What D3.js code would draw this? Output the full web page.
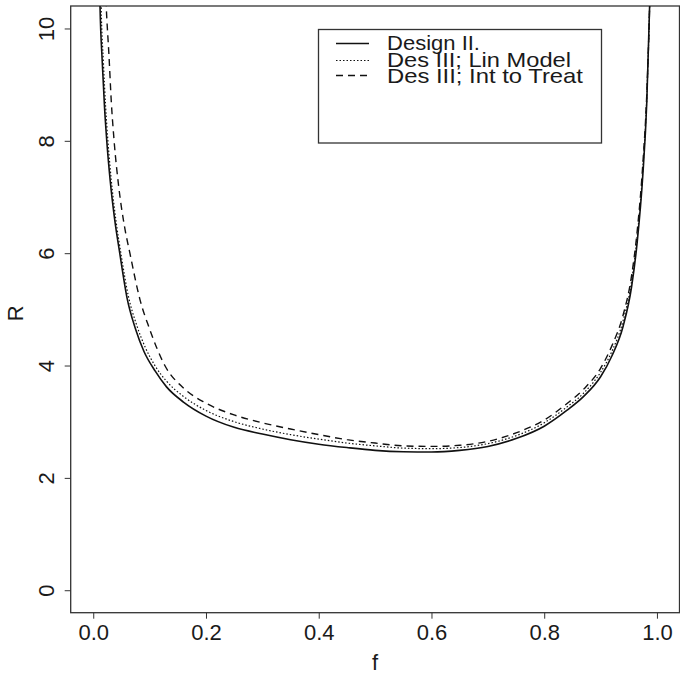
<!DOCTYPE html>
<html>
<head>
<meta charset="utf-8">
<script src="https://cdn.jsdelivr.net/npm/d3@7"></script>
<style>
  body { margin: 0; background: #fff; }
  svg text { font-family: "Liberation Sans", Arial, sans-serif; fill: #1a1a1a; }
</style>
</head>
<body>
<div id="chart"></div>
<script>
// series: f values and R values
var fDesign2 = [0.010, 0.012, 0.016, 0.020, 0.024, 0.030, 0.038, 0.047, 0.060, 0.075, 0.090, 0.110, 0.130, 0.160, 0.200, 0.250, 0.300, 0.350, 0.400, 0.450, 0.500, 0.550, 0.600, 0.650, 0.700, 0.750, 0.800, 0.840, 0.870, 0.900, 0.920, 0.940, 0.955, 0.965, 0.975, 0.982, 0.987, 0.990];
var rDesign2 = [11.5, 10.4, 9.4, 8.6, 8.0, 7.3, 6.6, 6.0, 5.2, 4.65, 4.25, 3.9, 3.62, 3.35, 3.10, 2.90, 2.78, 2.68, 2.60, 2.54, 2.49, 2.465, 2.46, 2.49, 2.56, 2.70, 2.92, 3.20, 3.45, 3.80, 4.17, 4.70, 5.40, 6.20, 7.40, 8.70, 10.4, 11.8];

var fLinModel = [0.012, 0.014, 0.018, 0.022, 0.026, 0.032, 0.040, 0.049, 0.062, 0.077, 0.092, 0.110, 0.130, 0.160, 0.200, 0.250, 0.300, 0.350, 0.400, 0.450, 0.500, 0.550, 0.600, 0.650, 0.700, 0.750, 0.800, 0.840, 0.870, 0.900, 0.920, 0.940, 0.955, 0.965, 0.975, 0.982, 0.987, 0.990];
var rLinModel = [11.5, 10.4, 9.4, 8.6, 8.0, 7.3, 6.6, 6.0, 5.25, 4.72, 4.33, 3.99, 3.72, 3.45, 3.20, 3.00, 2.87, 2.77, 2.69, 2.62, 2.57, 2.53, 2.52, 2.54, 2.61, 2.75, 2.98, 3.26, 3.51, 3.88, 4.25, 4.80, 5.50, 6.30, 7.50, 8.78, 10.4, 11.8];

var fIntTreat = [0.018, 0.023, 0.028, 0.032, 0.037, 0.045, 0.055, 0.065, 0.083, 0.100, 0.127, 0.160, 0.200, 0.250, 0.300, 0.350, 0.400, 0.450, 0.500, 0.550, 0.600, 0.650, 0.700, 0.750, 0.800, 0.840, 0.870, 0.900, 0.920, 0.940, 0.955, 0.965, 0.975, 0.982, 0.987, 0.990];
var rIntTreat = [11.8, 10.4, 9.5, 8.7, 8.0, 7.2, 6.5, 6.0, 5.17, 4.65, 4.0, 3.6, 3.33, 3.12, 2.98, 2.87, 2.77, 2.68, 2.62, 2.57, 2.56, 2.58, 2.65, 2.80, 3.03, 3.32, 3.58, 3.95, 4.35, 4.90, 5.60, 6.40, 7.60, 8.85, 10.4, 11.8];

var legendLabels = ['Design II.', 'Des III; Lin Model', 'Des III; Int to Treat'];
var xTicks = [0, 0.2, 0.4, 0.6, 0.8, 1.0];
var yTicks = [0, 2, 4, 6, 8, 10];

var W = 680, H = 682;
// plot frame (note: "top" is reserved on window, so use other names)
var pL = 70.7, pR = 679.5, pT = 6, pB = 612.7;

var svg = d3.select('#chart').append('svg')
    .attr('width', W)
    .attr('height', H);

// scales, R style 4% padding
var x = d3.scaleLinear().domain([-0.04, 1.04]).range([pL, pR]);
var y = d3.scaleLinear().domain([-0.4, 10.4]).range([pB, pT]);

svg.append('clipPath').attr('id', 'plotclip')
  .append('rect')
    .attr('x', pL).attr('y', pT)
    .attr('width', pR - pL).attr('height', pB - pT);

// x axis
var gx = svg.append('g')
    .attr('transform', 'translate(0,' + pB + ')')
    .call(d3.axisBottom(x).tickValues(xTicks).tickFormat(d3.format('.1f')).tickSize(6).tickPadding(6));
gx.select('.domain').remove();
gx.selectAll('line').attr('stroke', '#333');
gx.selectAll('text').attr('font-size', 22).style('font-family', '"Liberation Sans", Arial, sans-serif');

// y axis, rotated labels
var gy = svg.append('g')
    .attr('transform', 'translate(' + pL + ',0)')
    .call(d3.axisLeft(y).tickValues(yTicks).tickFormat(d3.format('d')).tickSize(6));
gy.select('.domain').remove();
gy.selectAll('line').attr('stroke', '#333');
gy.selectAll('text')
    .attr('font-size', 22)
    .style('font-family', '"Liberation Sans", Arial, sans-serif')
    .attr('x', null).attr('dy', null)
    .attr('text-anchor', 'middle')
    .attr('transform', 'translate(-17,0) rotate(-90)');

// box
svg.append('rect')
    .attr('x', pL).attr('y', pT)
    .attr('width', pR - pL).attr('height', pB - pT)
    .attr('fill', 'none')
    .attr('stroke', '#333')
    .attr('stroke-width', 1.3);

// axis titles
svg.append('text')
    .attr('x', (pL + pR) / 2).attr('y', 670)
    .attr('text-anchor', 'middle')
    .attr('font-size', 22)
    .text('f');
svg.append('text')
    .attr('transform', 'translate(23,' + ((pT + pB) / 2 + 4) + ') rotate(-90)')
    .attr('text-anchor', 'middle')
    .attr('font-size', 22)
    .text('R');

// curves
var line = d3.line()
    .curve(d3.curveMonotoneX)
    .x(function(d) { return x(d.f); })
    .y(function(d) { return y(d.r); });

function pts(fs, rs) {
    return fs.map(function(f, i) { return {f: f, r: rs[i]}; });
}

var series = [
    {data: pts(fDesign2, rDesign2), dash: null, width: 1.6},
    {data: pts(fLinModel, rLinModel), dash: '1.5,2', width: 1.2},
    {data: pts(fIntTreat, rIntTreat), dash: '7,5', width: 1.4}
];

var gc = svg.append('g').attr('clip-path', 'url(#plotclip)');
series.forEach(function(s) {
    gc.append('path')
        .datum(s.data)
        .attr('fill', 'none')
        .attr('stroke', '#111')
        .attr('stroke-width', s.width)
        .attr('stroke-dasharray', s.dash)
        .attr('d', line);
});

// legend
var lg = svg.append('g');
lg.append('rect')
    .attr('x', 318.5).attr('y', 29.5)
    .attr('width', 283).attr('height', 113.5)
    .attr('fill', '#fff')
    .attr('stroke', '#333')
    .attr('stroke-width', 1.3);
var lineY = [43.5, 60.5, 75.5];
var textY = [50, 66.5, 83];
var textW = [93, 184, 196];
series.forEach(function(s, i) {
    lg.append('line')
        .attr('x1', 336).attr('x2', 369)
        .attr('y1', lineY[i]).attr('y2', lineY[i])
        .attr('stroke', '#111')
        .attr('stroke-width', s.width)
        .attr('stroke-dasharray', s.dash);
    lg.append('text')
        .attr('x', 387).attr('y', textY[i])
        .attr('font-size', 21)
        .attr('textLength', textW[i])
        .attr('lengthAdjust', 'spacingAndGlyphs')
        .text(legendLabels[i]);
});
</script>
</body>
</html>
